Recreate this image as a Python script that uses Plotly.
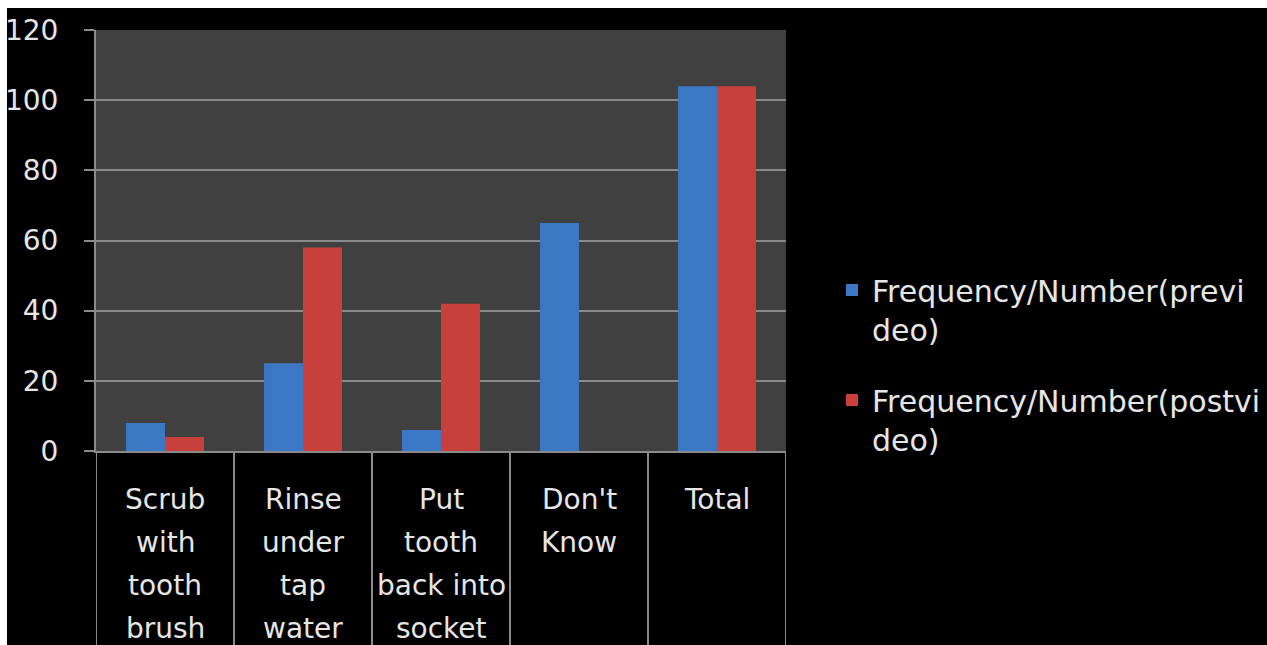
import plotly.graph_objects as go

# Survey responses: what to do with a knocked-out tooth, before and after the video
categories = ["Scrub\nwith\ntooth\nbrush", "Rinse\nunder\ntap\nwater", "Put\ntooth\nback into\nsocket", "Don't\nKnow", "Total"]
pre_video = [8, 25, 6, 65, 104]
post_video = [4, 58, 42, 0, 104]
series_names = ["Frequency/Number(previ<br>deo)", "Frequency/Number(postvi<br>deo)"]
y_ticks = [0, 20, 40, 60, 80, 100, 120]

W, H = 1267, 645
L, R, T, B = 96, 481, 30, 194
PW, PH = W - L - R, H - T - B

FONT = "DejaVu Sans"
FS = 28
TXT = "#e6e6e6"
GRID = "#8a8a8a"


def px_x(p):
    return (p - L) / PW


def px_y(p):
    return (H - B - p) / PH


x_idx = list(range(len(categories)))

fig = go.Figure()
fig.add_trace(go.Bar(
    x=x_idx, y=pre_video, name=series_names[0], legendgroup="a",
    marker=dict(color="#3b77c3", line=dict(width=0)),
))
fig.add_trace(go.Bar(
    x=x_idx, y=post_video, name=series_names[1], legendgroup="b",
    marker=dict(color="#c8403c", line=dict(width=0)),
))

shapes = []
# cell dividers under the category axis
for i in range(len(categories) + 1):
    shapes.append(dict(type="line", xref="x", yref="paper", x0=i - 0.5, x1=i - 0.5,
                       y0=0, y1=px_y(H), line=dict(color=GRID, width=2)))
# thin white frame along top and left edges
shapes.append(dict(type="rect", xref="paper", yref="paper", x0=px_x(0), x1=px_x(7),
                   y0=px_y(H), y1=px_y(0), fillcolor="white", line=dict(width=0)))
shapes.append(dict(type="rect", xref="paper", yref="paper", x0=px_x(0), x1=px_x(W),
                   y0=px_y(8), y1=px_y(0), fillcolor="white", line=dict(width=0)))

annotations = []
LINE_GAP = 43
FIRST = 48
for i, lab in enumerate(categories):
    for j, line in enumerate(lab.split("\n")):
        annotations.append(dict(
            x=i, xref="x", yref="paper", y=px_y(H - B + FIRST + j * LINE_GAP),
            text=line, showarrow=False, xanchor="center", yanchor="middle",
            font=dict(family=FONT, size=FS, color=TXT),
        ))

fig.update_layout(
    width=W, height=H,
    margin=dict(l=L, r=R, t=T, b=B, pad=0, autoexpand=False),
    paper_bgcolor="black", plot_bgcolor="#404040",
    barmode="group", bargap=0.435, bargroupgap=0,
    font=dict(family=FONT, size=FS, color=TXT),
    shapes=shapes, annotations=annotations,
    legend=dict(
        x=px_x(832), xanchor="left", y=px_y(264), yanchor="top",
        valign="top", bgcolor="rgba(0,0,0,0)", tracegroupgap=29,
        font=dict(family=FONT, size=30, color=TXT),
        itemwidth=30,
    ),
    xaxis=dict(
        range=[-0.5, len(categories) - 0.5], showticklabels=False, ticks="",
        showgrid=False, zeroline=False, showline=True, linecolor=GRID, linewidth=2,
    ),
    yaxis=dict(
        range=[0, 120], tickvals=y_ticks, showgrid=True, gridcolor=GRID, gridwidth=2,
        zeroline=False, showline=True, linecolor=GRID, linewidth=2,
        ticks="outside", ticklen=10, tickwidth=2, tickcolor=GRID,
        ticklabelstandoff=20,
        tickfont=dict(family=FONT, size=FS, color=TXT),
    ),
)

fig.write_html("out.html")
